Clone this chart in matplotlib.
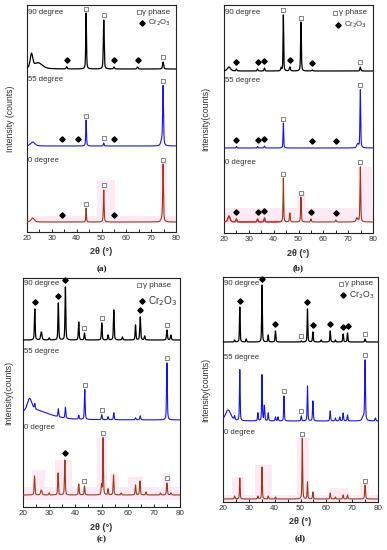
import numpy as np
import matplotlib
matplotlib.use('Agg')
import matplotlib.pyplot as plt
from matplotlib.patches import Rectangle

plt.rcParams['font.family'] = ['Liberation Sans', 'DejaVu Sans']

# ---------------- data (peak position 2theta, intensity, FWHM) ----------------
SAMPLES = ['0 degree', '55 degree', '90 degree']
XTICKS = [20, 30, 40, 50, 60, 70, 80]

# Panel (a)
A90_POS = [21.8, 24.5, 36.0, 43.8, 50.9, 55.0, 64.5, 74.8]
A90_INT = [14, 6, 2, 56, 49, 2, 2, 7]
A90_FWHM = [1.2, 4.0, 0.5, 0.35, 0.4, 0.5, 0.5, 0.5]
A90_GAMMA = [43.8, 50.9, 74.8]
A90_CR = [36.0, 55.0, 64.5]
A55_POS = [22.3, 43.8, 50.9, 74.3, 74.8]
A55_INT = [4, 26, 3, 5, 58]
A55_FWHM = [2.0, 0.35, 0.4, 1.0, 0.4]
A55_GAMMA = [43.8, 50.9, 74.8]
A55_CR = [34.0, 40.5, 55.0]
A0_POS = [22.3, 43.8, 50.9, 74.5, 74.8]
A0_INT = [4, 14, 32, 4, 55]
A0_FWHM = [1.5, 0.3, 0.35, 1.0, 0.35]
A0_GAMMA = [43.8, 50.9, 74.8]
A0_CR = [34.0, 55.0]

# Panel (b)
B90_POS = [22.0, 25.0, 33.5, 36.3, 43.0, 43.9, 46.5, 51.0, 55.5, 74.9]
B90_INT = [4, 2, 2, 3, 3, 56, 4, 49, 1, 4]
B90_FWHM = [1.5, 0.4, 0.4, 0.4, 0.4, 0.3, 0.5, 0.35, 0.5, 0.4]
B90_GAMMA = [43.9, 51.0, 74.9]
B90_CR = [25.0, 33.5, 36.3, 46.5, 55.5]
B55_POS = [25.0, 33.5, 36.3, 43.9, 73.8, 74.9]
B55_INT = [1.5, 1.5, 2, 25, 4, 58]
B55_FWHM = [0.4, 0.4, 0.4, 0.3, 0.8, 0.35]
B55_GAMMA = [43.9, 74.9]
B55_CR = [25.0, 33.5, 36.3, 55.3, 65.0]
B0_POS = [22.0, 25.0, 33.5, 36.3, 43.9, 46.5, 51.0, 55.0, 65.0, 73.5, 74.9]
B0_INT = [6, 3, 3, 4, 44, 9, 25, 3, 2, 4, 55]
B0_FWHM = [1.0, 0.4, 0.4, 0.4, 0.3, 0.4, 0.35, 0.4, 0.4, 0.8, 0.35]
B0_GAMMA = [43.9, 51.0, 74.9]
B0_CR = [25.0, 33.5, 36.3, 55.0, 65.0]

# Panel (c)
C90_POS = [24.5, 27.0, 30.0, 33.5, 36.2, 41.3, 43.5, 50.1, 52.5, 54.7, 58.0, 63.0, 64.8, 66.5, 75.0, 76.5]
C90_INT = [31, 8, 2, 37, 53, 18, 7, 17, 5, 30, 3, 15, 23, 4, 10, 5]
C90_FWHM = [0.35, 0.6, 0.4, 0.35, 0.35, 0.35, 0.35, 0.35, 0.35, 0.35, 0.4, 0.35, 0.4, 0.4, 0.4, 0.4]
C90_GAMMA = [43.5, 50.1, 75.0]
C90_CR = [24.5, 33.5, 36.2, 64.8]
C55_POS = [22.5, 24.0, 24.5, 33.5, 36.2, 41.3, 43.6, 50.1, 52.5, 54.7, 63.0, 64.8, 75.0]
C55_INT = [12, 10, 5, 8, 11, 4, 30, 5, 3, 7, 2, 4, 57]
C55_FWHM = [2.0, 14.0, 0.35, 0.35, 0.35, 0.35, 0.35, 0.35, 0.35, 0.35, 0.4, 0.4, 0.35]
C55_GAMMA = [43.6, 50.1, 75.0]
C55_CR = []
C0_POS = [24.4, 27.0, 30.0, 33.4, 36.0, 41.3, 43.5, 50.0, 50.6, 52.5, 54.6, 57.5, 63.0, 64.7, 67.0, 72.5, 75.0, 76.5]
C0_INT = [19, 5, 2, 22, 35, 11, 9, 10, 57, 6, 20, 2, 10, 14, 3, 2, 12, 2]
C0_FWHM = [0.35, 0.6, 0.4, 0.35, 0.35, 0.35, 0.35, 0.35, 0.3, 0.35, 0.35, 0.4, 0.35, 0.4, 0.4, 0.4, 0.4, 0.4]
C0_GAMMA = [43.5, 50.6, 75.0]
C0_CR = [36.0]

# Panel (d)
D90_POS = [24.5, 26.5, 29.0, 35.1, 37.5, 40.3, 50.3, 52.7, 54.8, 58.0, 61.5, 63.5, 66.5, 68.2, 75.0]
D90_INT = [2, 35, 3, 57, 7, 11, 1, 33, 10, 2, 11, 2, 8, 9, 3]
D90_FWHM = [0.35, 0.3, 0.35, 0.3, 0.35, 0.35, 0.35, 0.3, 0.35, 0.4, 0.35, 0.35, 0.35, 0.35, 0.4]
D90_GAMMA = [50.3, 75.0]
D90_CR = [26.5, 35.1, 40.3, 52.7, 54.8, 61.5, 66.5, 68.2]
D55_POS = [22.0, 24.5, 26.5, 33.5, 35.1, 36.0, 37.5, 40.3, 41.3, 43.6, 50.3, 52.7, 54.8, 61.5, 63.5, 65.2, 66.5, 68.2, 74.3, 75.0, 79.0]
D55_INT = [11, 4, 51, 8, 46, 15, 8, 4, 4, 25, 5, 35, 20, 10, 3, 4, 8, 6, 4, 60, 3]
D55_FWHM = [2.5, 0.35, 0.3, 0.35, 0.3, 0.35, 0.35, 0.35, 0.35, 0.3, 0.35, 0.3, 0.35, 0.35, 0.35, 0.35, 0.35, 0.35, 1.0, 0.35, 0.4]
D55_GAMMA = [43.6, 50.3, 75.0]
D55_CR = []
D0_POS = [24.5, 26.5, 33.5, 35.1, 37.5, 40.3, 50.7, 52.7, 54.8, 61.5, 63.5, 66.5, 68.2, 75.0]
D0_INT = [3, 21, 3, 32, 3, 2, 61, 17, 7, 6, 2, 4, 4, 14]
D0_FWHM = [0.35, 0.3, 0.35, 0.3, 0.35, 0.35, 0.3, 0.3, 0.35, 0.35, 0.35, 0.35, 0.35, 0.4]
D0_GAMMA = [50.7, 75.0]
D0_CR = []

# ---------------- layout (pixel geometry of each panel) ----------------
W, H = 387, 550
DPI = 100
fig = plt.figure(figsize=(W / DPI, H / DPI), dpi=DPI)

def add_axes_px(left, top, right, bottom):
    return fig.add_axes([left / W, 1 - bottom / H, (right - left) / W, (bottom - top) / H])

BLACK = '#000000'
BLUE = '#1414e6'
BROWN = '#9a3a1c'
PINK = '#feeaf5'
GRAY = '#333333'

x = np.linspace(20, 80, 4001)

def profile(pos, inten, fwhm):
    y = np.zeros_like(x)
    for p, a, w in zip(pos, inten, fwhm):
        d = (x - p) / (w / 2.0)
        y += a * (0.5 / (1 + d ** 2) + 0.5 * np.exp(-np.log(2) * d ** 2))
    return y

def draw_tofu(ax, xx, yy, transform=None, size=3.4):
    verts = [(-0.32, -0.5), (0.32, -0.5), (0.32, 0.5), (-0.32, 0.5), (-0.32, -0.5)]
    kw = dict(marker=verts, markersize=size, markerfacecolor='white',
              markeredgecolor='#555555', markeredgewidth=0.5, linestyle='none',
              zorder=6, clip_on=False)
    if transform is not None:
        kw['transform'] = transform
    ax.plot(xx, yy, **kw)

def draw_diamond(ax, xx, yy, transform=None, size=2.7):
    kw = dict(marker='D', markersize=size, color='black', linestyle='none',
              zorder=6, clip_on=False)
    if transform is not None:
        kw['transform'] = transform
    ax.plot(xx, yy, **kw)

def panel(geom, traces, offsets, labels_y, legend, letter, ylabel, ylab_dx,
          pinks, cr_fs=5.5, red_start=None):
    left, top, right, bottom = geom
    ax = add_axes_px(left, top, right, bottom)
    hpx = bottom - top
    wpx = right - left
    ax.set_xlim(20, 80)
    ax.set_ylim(0, hpx)
    for (x0, x1, y0, y1) in pinks:
        ax.add_patch(Rectangle((x0, y0), x1 - x0, y1 - y0, facecolor=PINK,
                               edgecolor='none', zorder=0))
    colors = [BROWN, BLUE, BLACK]
    for (pos, inten, fwhm, gam, cr), off, col, lw in zip(traces, offsets, colors, [0.8, 0.8, 0.9]):
        y = off + profile(pos, inten, fwhm)
        ax.plot(x, y, color=col, lw=lw, zorder=3)
        if col == BROWN and red_start is not None:
            m = x <= red_start
            ax.plot(x[m], y[m], color='#e0201c', lw=0.9, zorder=3)
        for g in gam:
            yy = np.interp(g, x, y)
            draw_tofu(ax, g, yy + 4.5)
        for c in cr:
            win = (x > c - 0.4) & (x < c + 0.4)
            yy = y[win].max()
            draw_diamond(ax, c, yy + 6.5)
    for s, fy in zip(SAMPLES, labels_y):
        ax.text(0.008, fy, s, transform=ax.transAxes, fontsize=5.6, color=GRAY,
                va='center', ha='left')
    (tx, ty), (dx, dy) = legend
    draw_tofu(ax, [tx], [ty], transform=ax.transAxes)
    ax.text(tx + 0.025, ty, 'γ phase', transform=ax.transAxes, fontsize=5.8,
            color=GRAY, va='center', ha='left')
    draw_diamond(ax, [dx], [dy], transform=ax.transAxes)
    ax.text(dx + 0.04, dy, r'Cr$_2$O$_3$', transform=ax.transAxes, fontsize=cr_fs,
            color=GRAY, va='center', ha='left')
    ax.set_xticks(XTICKS)
    ax.set_xticks(np.arange(25, 80, 10), minor=True)
    ax.set_xticklabels([str(t) for t in XTICKS])
    ax.set_yticks([])
    ax.tick_params(axis='x', which='both', direction='in', length=2, width=0.6,
                   labelsize=5.8, pad=2.5, labelcolor=GRAY)
    for sp in ax.spines.values():
        sp.set_linewidth(0.8)
        sp.set_color('#222222')
    ax.text(0.5, -20 / hpx, '2θ (°)', transform=ax.transAxes, fontsize=6.5,
            fontweight='bold', color=GRAY, ha='center', va='center')
    ax.text(0.5, -letter[1] / hpx, letter[0], transform=ax.transAxes,
            fontsize=6.5, fontweight='bold', family='Liberation Serif',
            ha='center', va='center', color='#111111')
    ax.set_ylabel(ylabel, fontsize=6.3, color=GRAY)
    ax.yaxis.set_label_coords(-ylab_dx / wpx, 0.5)
    return ax

panel((27, 5, 176, 232),
      [(A0_POS, A0_INT, A0_FWHM, A0_GAMMA, A0_CR),
       (A55_POS, A55_INT, A55_FWHM, A55_GAMMA, A55_CR),
       (A90_POS, A90_INT, A90_FWHM, A90_GAMMA, A90_CR)],
      [10, 86, 163], [0.313, 0.67, 0.969],
      ((0.75, 0.969), (0.77, 0.92)), ('(a)', 37), 'Intensity (counts)', 12,
      [(20, 80, 9, 16), (48.2, 55.5, 16, 52), (73.6, 76.4, 16, 69)])

panel((224, 5, 373, 233),
      [(B0_POS, B0_INT, B0_FWHM, B0_GAMMA, B0_CR),
       (B55_POS, B55_INT, B55_FWHM, B55_GAMMA, B55_CR),
       (B90_POS, B90_INT, B90_FWHM, B90_GAMMA, B90_CR)],
      [11, 85, 162], [0.311, 0.67, 0.969],
      ((0.745, 0.965), (0.765, 0.912)), ('(b)', 35), 'Intensity(counts)', 14,
      [(20, 80, 11, 25), (49.5, 53, 25, 41), (74, 79.7, 25, 66)], red_start=43.0)

panel((23, 278, 180, 507),
      [(C0_POS, C0_INT, C0_FWHM, C0_GAMMA, C0_CR),
       (C55_POS, C55_INT, C55_FWHM, C55_GAMMA, C55_CR),
       (C90_POS, C90_INT, C90_FWHM, C90_GAMMA, C90_CR)],
      [12, 87, 167], [0.349, 0.677, 0.978],
      ((0.74, 0.969), (0.757, 0.9)), ('(c)', 32), 'Intensity(counts)', 10,
      [(20, 80, 7, 20), (23.4, 28.4, 20, 37), (32.2, 38.7, 20, 47),
       (48.2, 52.1, 20, 70), (53.2, 56.3, 20, 34), (60.1, 65.9, 20, 30),
       (73.5, 76.2, 20, 34)], cr_fs=7.2)

panel((223, 277, 378, 502),
      [(D0_POS, D0_INT, D0_FWHM, D0_GAMMA, D0_CR),
       (D55_POS, D55_INT, D55_FWHM, D55_GAMMA, D55_CR),
       (D90_POS, D90_INT, D90_FWHM, D90_GAMMA, D90_CR)],
      [3, 81, 160], [0.307, 0.644, 0.969],
      ((0.76, 0.969), (0.775, 0.92)), ('(d)', 36), 'Intensity(counts)', 13,
      [(20, 80, 0, 7), (23.5, 28.6, 7, 25), (32.4, 39, 7, 37),
       (48.6, 53.3, 7, 64), (61, 68.8, 7, 14), (73, 76.5, 7, 19)], cr_fs=6.2)

fig.savefig('out.png', dpi=DPI, facecolor='white')
